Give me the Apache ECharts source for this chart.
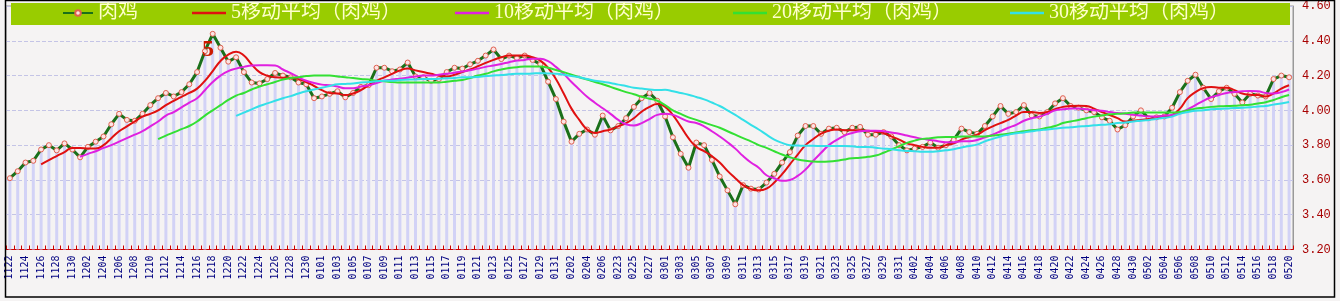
<!DOCTYPE html>
<html>
<head>
<meta charset="utf-8">
<script src="https://cdn.jsdelivr.net/npm/echarts@6/dist/echarts.min.js"></script>
<style>
html,body{margin:0;padding:0;background:#f5f3f3;}
#chart{width:1340px;height:301px;}
</style>
</head>
<body>
<div id="chart"></div>
<script>
const categories = [
'1122','1123','1124','1125','1126','1127','1128','1129','1130',
'1201','1202','1203','1204','1205','1206','1207','1208','1209','1210','1211','1212','1213','1214','1215','1216','1217','1218','1219','1220','1221','1222','1223','1224','1225','1226','1227','1228','1229','1230','1231',
'0101','0102','0103','0104','0105','0106','0107','0108','0109','0110','0111','0112','0113','0114','0115','0116','0117','0118','0119','0120','0121','0122','0123','0124','0125','0126','0127','0128','0129','0130','0131',
'0201','0202','0203','0204','0205','0206','0207',
'0223','0224','0225','0226','0227','0228',
'0301','0302','0303','0304','0305','0306','0307','0308','0309','0310','0311','0312','0313','0314','0315','0316','0317','0318','0319','0320','0321','0322','0323','0324','0325','0326','0327','0328','0329','0330','0331',
'0401','0402','0403','0404','0405','0406','0407','0408','0409','0410','0411','0412','0413','0414','0415','0416','0417','0418','0419','0420','0421','0422','0423','0424','0425','0426','0427','0428','0429','0430',
'0501','0502','0503','0504','0505','0506','0507','0508','0509','0510','0511','0512','0513','0514','0515','0516','0517','0518','0519','0520'
];

const price = [
3.61,3.65,3.70,3.71,3.775,3.80,3.77,3.81,3.775,3.73,
3.79,3.82,3.85,3.92,3.98,3.945,3.94,3.98,4.03,4.07,
4.10,4.08,4.105,4.15,4.22,4.34,4.44,4.36,4.28,4.305,
4.22,4.16,4.155,4.18,4.215,4.20,4.19,4.16,4.15,4.07,
4.08,4.095,4.11,4.075,4.10,4.135,4.145,4.245,4.245,4.225,
4.235,4.275,4.195,4.19,4.17,4.18,4.22,4.245,4.24,4.265,
4.285,4.315,4.35,4.295,4.315,4.30,4.315,4.29,4.265,4.165,
4.065,3.935,3.82,3.865,3.89,3.86,3.97,3.885,3.91,3.955,
4.02,4.07,4.10,4.055,3.965,3.845,3.75,3.67,3.815,3.80,
3.715,3.62,3.54,3.46,3.57,3.55,3.545,3.585,3.635,3.70,
3.76,3.855,3.91,3.91,3.865,3.895,3.90,3.875,3.90,3.905,
3.86,3.86,3.875,3.85,3.80,3.77,3.78,3.79,3.815,3.785,
3.80,3.83,3.895,3.875,3.865,3.91,3.965,4.025,3.98,3.99,
4.03,3.97,3.965,3.99,4.04,4.07,4.025,4.015,4.00,3.99,
3.96,3.94,3.89,3.915,3.965,4.00,3.955,3.96,3.965,4.015,
4.105,4.17,4.205,4.13,4.065,4.11,4.13,4.095,4.045,4.095,
4.085,4.08,4.18,4.20,4.19
];

const ma5 = [
'-','-','-','-',3.69,3.714,3.737,3.76,3.784,3.784,
3.78,3.78,3.80,3.84,3.88,3.908,3.936,3.964,3.98,4.00,
4.03,4.055,4.078,4.10,4.125,4.17,4.226,4.284,4.32,4.337,
4.315,4.264,4.22,4.20,4.19,4.188,4.188,4.18,4.163,4.14,
4.116,4.10,4.097,4.088,4.097,4.116,4.144,4.17,4.19,4.21,
4.23,4.24,4.23,4.22,4.21,4.20,4.195,4.205,4.22,4.235,
4.254,4.273,4.29,4.305,4.315,4.315,4.315,4.305,4.286,4.245,
4.18,4.097,4.01,3.945,3.89,3.87,3.88,3.89,3.908,3.927,
3.955,3.993,4.02,4.036,4.02,3.973,3.908,3.84,3.79,3.765,
3.737,3.70,3.652,3.61,3.57,3.548,3.54,3.55,3.585,3.633,
3.69,3.746,3.80,3.835,3.866,3.883,3.89,3.886,3.886,3.886,
3.883,3.877,3.87,3.85,3.832,3.81,3.80,3.79,3.785,3.785,
3.80,3.81,3.832,3.847,3.86,3.886,3.908,3.927,3.945,3.97,
3.99,3.99,3.985,3.99,4.006,4.02,4.025,4.027,4.025,4.01,
3.99,3.973,3.955,3.936,3.94,3.945,3.95,3.955,3.964,3.973,
4.01,4.07,4.105,4.128,4.135,4.13,4.13,4.116,4.097,4.09,
4.088,4.08,4.097,4.125,4.144
];

const ma10 = [
'-','-','-','-','-','-','-','-','-',3.733,
3.75,3.765,3.784,3.80,3.82,3.84,3.86,3.88,3.908,3.936,
3.97,3.99,4.017,4.044,4.07,4.116,4.163,4.20,4.226,4.24,
4.25,4.258,4.26,4.26,4.258,4.235,4.214,4.19,4.17,4.157,
4.148,4.144,4.137,4.127,4.127,4.137,4.144,4.157,4.17,4.177,
4.182,4.188,4.195,4.20,4.20,4.205,4.21,4.216,4.224,4.23,
4.24,4.25,4.258,4.267,4.277,4.286,4.29,4.296,4.296,4.283,
4.25,4.21,4.163,4.12,4.078,4.044,4.012,3.98,3.945,3.92,
3.913,3.927,3.95,3.974,3.98,3.974,3.955,3.936,3.927,3.908,
3.88,3.85,3.817,3.78,3.737,3.70,3.67,3.627,3.61,3.595,
3.60,3.623,3.66,3.71,3.756,3.80,3.83,3.855,3.87,3.88,
3.883,3.883,3.88,3.873,3.866,3.855,3.845,3.836,3.83,3.823,
3.817,3.817,3.823,3.823,3.83,3.845,3.86,3.88,3.90,3.917,
3.94,3.955,3.964,3.98,4.00,4.006,4.01,4.01,4.006,4.00,
3.998,3.99,3.985,3.98,3.974,3.97,3.964,3.964,3.97,3.974,
3.985,4.006,4.03,4.055,4.075,4.088,4.10,4.105,4.11,4.112,
4.11,4.10,4.097,4.105,4.12
];

const ma20 = [
'-','-','-','-','-','-','-','-','-','-',
'-','-','-','-','-','-','-','-','-',3.835,
3.855,3.873,3.892,3.91,3.936,3.97,4.00,4.03,4.06,4.085,
4.10,4.12,4.137,4.15,4.163,4.177,4.186,4.19,4.197,4.20,
4.20,4.20,4.195,4.19,4.186,4.18,4.177,4.17,4.167,4.163,
4.16,4.16,4.16,4.16,4.16,4.16,4.165,4.17,4.175,4.186,
4.20,4.21,4.224,4.235,4.244,4.248,4.252,4.252,4.252,4.245,
4.232,4.22,4.205,4.19,4.177,4.163,4.15,4.135,4.12,4.105,
4.093,4.078,4.067,4.055,4.03,4.00,3.98,3.96,3.945,3.93,
3.915,3.90,3.88,3.86,3.84,3.822,3.80,3.784,3.765,3.746,
3.73,3.718,3.71,3.706,3.705,3.706,3.71,3.718,3.724,3.727,
3.733,3.74,3.756,3.775,3.794,3.813,3.826,3.836,3.84,3.845,
3.847,3.847,3.85,3.85,3.85,3.85,3.855,3.86,3.866,3.873,
3.88,3.886,3.89,3.90,3.91,3.927,3.936,3.945,3.955,3.964,
3.97,3.977,3.98,3.983,3.987,3.987,3.987,3.987,3.987,3.987,
3.99,4.00,4.01,4.015,4.02,4.023,4.025,4.027,4.03,4.032,
4.04,4.047,4.06,4.075,4.088
];

const ma30 = [
'-','-','-','-','-','-','-','-','-','-',
'-','-','-','-','-','-','-','-','-','-',
'-','-','-','-','-','-','-','-','-',3.968,
3.987,4.006,4.025,4.04,4.055,4.07,4.082,4.097,4.11,4.12,
4.13,4.14,4.15,4.152,4.155,4.16,4.163,4.167,4.17,4.17,
4.175,4.177,4.178,4.18,4.18,4.182,4.184,4.186,4.19,4.19,
4.192,4.197,4.20,4.203,4.207,4.21,4.21,4.212,4.214,4.212,
4.21,4.205,4.197,4.19,4.18,4.17,4.165,4.157,4.148,4.14,
4.13,4.125,4.12,4.117,4.118,4.11,4.10,4.09,4.077,4.063,
4.045,4.025,4.00,3.974,3.945,3.917,3.89,3.86,3.832,3.813,
3.80,3.798,3.796,3.796,3.795,3.795,3.795,3.795,3.793,3.79,
3.79,3.785,3.78,3.777,3.77,3.767,3.765,3.762,3.762,3.765,
3.77,3.777,3.787,3.795,3.803,3.822,3.836,3.85,3.86,3.868,
3.873,3.88,3.886,3.89,3.895,3.90,3.903,3.907,3.91,3.914,
3.917,3.92,3.927,3.93,3.936,3.94,3.945,3.95,3.957,3.964,
3.98,3.99,3.998,4.00,4.006,4.008,4.01,4.013,4.015,4.018,
4.022,4.025,4.033,4.04,4.048
];

const seriesNames = ['肉鸡','5移动平均（肉鸡）','10移动平均（肉鸡）','20移动平均（肉鸡）','30移动平均（肉鸡）'];
const yTicks = [3.20,3.40,3.60,3.80,4.00,4.20,4.40,4.60];

const chart = echarts.init(document.getElementById('chart'), null, {renderer:'canvas'});
const legendLefts = [62, 192, 455, 733, 1010];
const legendFont = {color:'#ffffcc', fontSize:20, fontFamily:"'Liberation Serif','Noto Sans CJK SC',serif"};
const legends = seriesNames.map((n,i)=>{
  if (i === 0) {
    return {data:[n], left: legendLefts[i], top: 3, padding:0, itemWidth:30, itemHeight:7, itemGap:8,
      textStyle: legendFont, selectedMode:false, z:10};
  }
  return {data:[{name:n, icon:'rect'}], left: legendLefts[i], top: 3, padding:0, itemWidth:34, itemHeight:2.5, itemGap:8,
    textStyle: legendFont, selectedMode:false, z:10};
});

chart.setOption({
  backgroundColor:'#f5f3f3',
  animation:false,
  graphic:[
    {type:'rect', z:1, shape:{x:11,y:3,width:1279,height:22}, style:{fill:'#99cc00'}},
    {type:'rect', z:100, shape:{x:5.5,y:0.5,width:1329,height:296.5}, style:{fill:'none', stroke:'#000', lineWidth:1.5}},
    {type:'text', z:50, left:202, top:38, style:{text:'5', fill:'#cc1a00', font:"bold 24px 'Liberation Serif', serif"}}
  ],
  legend: legends,
  grid:{left:6, right:47, top:3, bottom:51.5, show:true, borderColor:'#999', borderWidth:1, backgroundColor:'transparent'},
  xAxis:{
    type:'category', data:categories, boundaryGap:true,
    axisLine:{show:true, lineStyle:{color:'#cc0000', width:1}},
    axisTick:{show:true, inside:true, length:4, interval:0, lineStyle:{color:'#cc0000'}},
    axisLabel:{interval:1, rotate:90, color:'#000080', fontSize:10, fontFamily:"'DejaVu Sans Mono',monospace", margin:6},
    splitLine:{show:false}
  },
  yAxis:{
    type:'value', position:'right', min:yTicks[0], max:yTicks[yTicks.length-1], interval:0.2,
    axisLine:{show:true, lineStyle:{color:'#999'}},
    axisTick:{show:false},
    axisLabel:{color:'#a80000', fontSize:12, fontFamily:"'Liberation Mono',monospace", margin:9, formatter:v=>v.toFixed(2)},
    splitLine:{show:true, lineStyle:{color:'#c4c4e6', type:'dashed', width:1}}
  },
  series:[
    {type:'bar', name:'柱', data:price, barWidth:3, silent:true, itemStyle:{color:'#d2d2f6'}, z:1},
    {type:'line', name:seriesNames[0], data:price, symbol:'circle', symbolSize:5, showSymbol:true,
      lineStyle:{color:'#1a701a', width:3}, itemStyle:{color:'#fbe4e4', borderColor:'#e06050', borderWidth:1}, z:3},
    {type:'line', name:seriesNames[1], data:ma5, smooth:true, showSymbol:false, symbol:'none', lineStyle:{color:'#e01010', width:2}, itemStyle:{color:'#e01010'}, z:4},
    {type:'line', name:seriesNames[2], data:ma10, smooth:true, showSymbol:false, symbol:'none', lineStyle:{color:'#e020e0', width:2}, itemStyle:{color:'#e020e0'}, z:4},
    {type:'line', name:seriesNames[3], data:ma20, smooth:true, showSymbol:false, symbol:'none', lineStyle:{color:'#33e033', width:2}, itemStyle:{color:'#33e033'}, z:4},
    {type:'line', name:seriesNames[4], data:ma30, smooth:true, showSymbol:false, symbol:'none', lineStyle:{color:'#33e0e8', width:2}, itemStyle:{color:'#33e0e8'}, z:4}
  ]
});
</script>
</body>
</html>
